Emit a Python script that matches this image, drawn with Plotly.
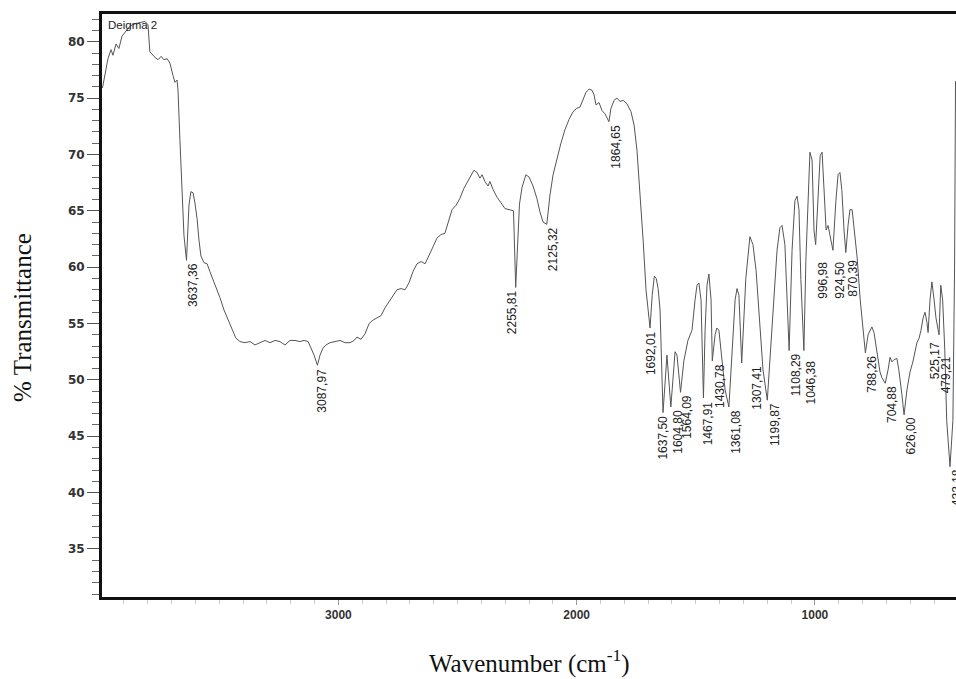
import plotly.graph_objects as go

trace_wn = [
    3990, 3979, 3967, 3954, 3946, 3933, 3921, 3908, 3891, 3874, 3853, 3832, 3811, 3799,
    3791, 3774, 3757, 3744, 3732, 3719, 3707, 3694, 3686, 3677, 3673, 3665, 3656, 3648,
    3627, 3619, 3610, 3602, 3593, 3585, 3577, 3564, 3551, 3539, 3526, 3514, 3497, 3480,
    3463, 3446, 3430, 3413, 3392, 3371, 3350, 3329, 3308, 3287, 3266, 3245, 3224, 3203,
    3182, 3161, 3144, 3127, 3115, 3102,
    3077, 3065, 3052, 3035, 3014, 2993, 2972, 2951, 2934, 2922, 2905, 2888, 2871, 2855,
    2838, 2821, 2804, 2788, 2771, 2754, 2737, 2720, 2704, 2687, 2670, 2653, 2636, 2620,
    2603, 2586, 2569, 2553, 2536, 2523, 2506, 2490, 2473, 2456, 2443, 2431, 2418, 2406,
    2397, 2385, 2372, 2364, 2351, 2334, 2317, 2301, 2265,
    2240, 2229, 2213, 2200, 2183, 2167, 2154, 2141,
    2112, 2099, 2082, 2066, 2049, 2032, 2015, 1999, 1986, 1973, 1961, 1948, 1936, 1927,
    1919, 1906, 1894, 1881,
    1856, 1843, 1831, 1818, 1805, 1789, 1772, 1759, 1747, 1734, 1721, 1709,
    1683, 1674, 1666, 1658, 1650,
    1621,
    1587, 1579,
    1550, 1533, 1516, 1503, 1495, 1487, 1478,
    1461, 1453, 1445, 1436,
    1419, 1412, 1403, 1390, 1377,
    1347, 1335, 1327, 1319,
    1290, 1273, 1260, 1247, 1231, 1218,
    1184, 1172, 1159, 1147, 1138, 1126, 1117,
    1096, 1084, 1075, 1067, 1059,
    1038, 1029, 1021, 1012, 1004,
    987, 978, 970, 962, 953, 945, 937,
    912, 903, 895, 887, 878,
    861, 853, 844, 836, 823, 810, 798,
    777, 769, 761, 752, 744, 736, 727, 719,
    693, 685, 677, 668, 656, 648, 635,
    614, 601, 589, 580, 572, 563, 555, 546, 538, 530,
    517, 509, 500, 492,
    472, 464, 455, 447,
    421, 414, 410,
]
trace_t = [
    75.9, 77.0, 78.5, 79.3, 78.8, 79.8, 79.4, 80.5, 81.0, 81.4, 81.6, 81.7, 81.8, 81.5,
    79.1, 78.7, 78.4, 78.7, 78.4, 78.5, 78.1, 77.0, 76.4, 76.6, 75.7, 71.3, 66.4, 62.8,
    65.5, 66.7, 66.6, 65.7, 64.3, 62.4, 61.0, 60.4, 60.3, 59.6, 58.9, 58.2, 57.3, 56.2,
    55.3, 54.4, 53.7, 53.4, 53.3, 53.4, 53.1, 53.3, 53.5, 53.3, 53.5, 53.4, 53.1, 53.5,
    53.5, 53.4, 53.5, 53.4, 52.8, 52.2,
    52.2, 52.8, 53.1, 53.3, 53.4, 53.5, 53.3, 53.3, 53.5, 53.8, 53.6, 54.1, 55.0, 55.3,
    55.5, 55.7, 56.4, 56.9, 57.4, 58.0, 58.1, 58.0, 58.6, 59.6, 60.3, 60.5, 60.3, 61.1,
    61.8, 62.6, 62.9, 63.0, 64.2, 65.1, 65.5, 66.1, 67.0, 67.7, 68.2, 68.6, 68.4, 67.9,
    68.2, 67.6, 67.2, 67.6, 66.9, 66.2, 65.7, 65.2, 65.0,
    65.6, 67.1, 68.2, 68.0, 67.2, 66.1, 64.9, 64.0,
    66.4, 68.2, 69.7, 71.0, 72.2, 73.1, 73.8, 74.1, 74.2, 74.8, 75.5, 75.8, 75.7, 75.3,
    74.4, 74.6, 73.9, 73.6,
    74.1, 74.8, 75.0, 74.7, 74.8, 74.5, 73.8, 72.6, 70.4, 66.8, 62.4, 58.0,
    57.5, 59.2, 59.0, 58.1, 56.2,
    52.2,
    52.5, 52.2,
    51.7, 53.5, 54.4, 57.1, 58.4, 58.6, 57.1,
    54.4, 58.4, 59.4, 57.1,
    54.0, 54.6, 54.4, 51.8, 49.1,
    52.6, 57.1, 58.1, 57.5,
    59.0, 62.7, 62.0, 59.7, 55.3, 50.9,
    53.5, 58.0, 61.5, 63.5, 63.7, 62.0, 57.1,
    61.5, 65.9, 66.3, 65.1, 58.9,
    60.6, 65.9, 70.2, 69.5, 63.3,
    65.9, 69.9, 70.2, 66.8, 63.3, 63.7, 62.9,
    65.9, 68.2, 68.4, 66.8, 63.3,
    63.7, 65.1, 65.1, 63.7, 60.9, 57.1, 54.4,
    54.0, 54.4, 54.7, 54.2, 53.1, 51.8, 50.7, 50.2,
    50.9, 52.0, 51.6, 51.8, 51.9, 50.9, 48.7,
    49.1, 50.7, 51.6, 52.5, 53.3, 53.7, 54.4, 55.5, 56.0, 55.1,
    57.1, 58.7, 57.1, 55.5,
    58.4, 57.1, 52.6, 46.4,
    46.4, 60.0, 76.5,
]

# Picked bands: printed label and %T at the band minimum
band_labels = [
    "3637,36", "3087,97", "2255,81", "2125,32", "1864,65", "1692,01", "1637,50",
    "1604,80", "1564,09", "1467,91", "1430,78", "1361,08", "1307,41", "1199,87",
    "1108,29", "1046,38", "996,98", "924,50", "870,39", "788,26", "704,88",
    "626,00", "525,17", "479,21", "433,18",
]
band_t = [
    60.6, 51.3, 58.2, 63.8, 72.9, 54.6, 47.1,
    47.6, 48.9, 48.4, 51.7, 47.6, 51.5, 48.2,
    52.6, 52.6, 62.0, 61.5, 61.3, 52.4, 49.7,
    46.9, 54.2, 54.0, 42.3,
]
band_wn = [float(s.replace(",", ".")) for s in band_labels]

# Small pixel nudges for labels that the peak picker moved aside
label_dx = {"3087,97": -2, "2255,81": -10, "1692,01": -6, "1637,50": -7,
            "1467,91": -3, "1307,41": 8}
label_dy = {"996,98": -14, "924,50": -8, "870,39": -4, "1046,38": -7,
            "525,17": -7, "479,21": -19}

x_ticks = [3000, 2000, 1000]
y_ticks = [35, 40, 45, 50, 55, 60, 65, 70, 75, 80]

pts = sorted(zip(trace_wn + band_wn, trace_t + band_t), key=lambda p: -p[0])
wn = [p[0] for p in pts]
tr = [p[1] for p in pts]

fig = go.Figure()
fig.add_trace(go.Scatter(
    x=wn, y=tr, mode="lines",
    line=dict(color="#555555", width=1),
    hoverinfo="skip", showlegend=False,
))

annotations = []
for lab, x, y in zip(band_labels, band_wn, band_t):
    annotations.append(dict(
        x=x, y=y, xref="x", yref="y", text=lab, textangle=-90,
        showarrow=False, xanchor="center", yanchor="top",
        xshift=7 + label_dx.get(lab, 0), yshift=-2 + label_dy.get(lab, 0),
        borderpad=0,
        font=dict(family="Liberation Sans, Arial, sans-serif", size=12, color="#222"),
    ))

annotations.append(dict(
    x=0.005, y=0.995, xref="paper", yref="paper", text="Deigma 2",
    showarrow=False, xanchor="left", yanchor="top",
    font=dict(family="Liberation Sans, Arial, sans-serif", size=11.5, color="#222"),
))
annotations.append(dict(
    x=-0.094, y=0.48, xref="paper", yref="paper", text="% Transmittance",
    textangle=-90, showarrow=False, xanchor="center", yanchor="middle",
    font=dict(family="Liberation Serif, Times New Roman, serif", size=25, color="#111"),
))
annotations.append(dict(
    x=0.501, y=-0.11, xref="paper", yref="paper",
    text="Wavenumber (cm<sup>-1</sup>)",
    showarrow=False, xanchor="center", yanchor="middle",
    font=dict(family="Liberation Serif, Times New Roman, serif", size=25, color="#111"),
))

fig.update_layout(
    width=956, height=679,
    margin=dict(l=102, r=0, t=14, b=82),
    paper_bgcolor="white", plot_bgcolor="white",
    annotations=annotations,
    xaxis=dict(
        range=[3992, 408], showgrid=False, zeroline=False,
        showline=True, linecolor="#111", linewidth=3, mirror=True,
        tickmode="array", tickvals=x_ticks, ticktext=[str(v) for v in x_ticks],
        ticks="outside", ticklen=5, tickwidth=1, tickcolor="#999",
        tickfont=dict(family="Liberation Sans, Arial, sans-serif", size=12, color="#333",
                      weight="bold"),
        minor=dict(dtick=100, tick0=0, ticks="outside", ticklen=4, tickcolor="#c8c8c8",
                   showgrid=False),
    ),
    yaxis=dict(
        range=[30.74, 82.46], showgrid=False, zeroline=False,
        showline=True, linecolor="#111", linewidth=3,
        tickmode="array", tickvals=y_ticks, ticktext=[str(v) for v in y_ticks],
        ticks="outside", ticklen=12, tickwidth=1, tickcolor="#555",
        tickfont=dict(family="DejaVu Sans, sans-serif", size=12, color="#333",
                      weight="bold"),
        minor=dict(dtick=1, tick0=0, ticks="outside", ticklen=7, tickcolor="#666",
                   showgrid=False),
    ),
)

fig.write_html("out.html")
